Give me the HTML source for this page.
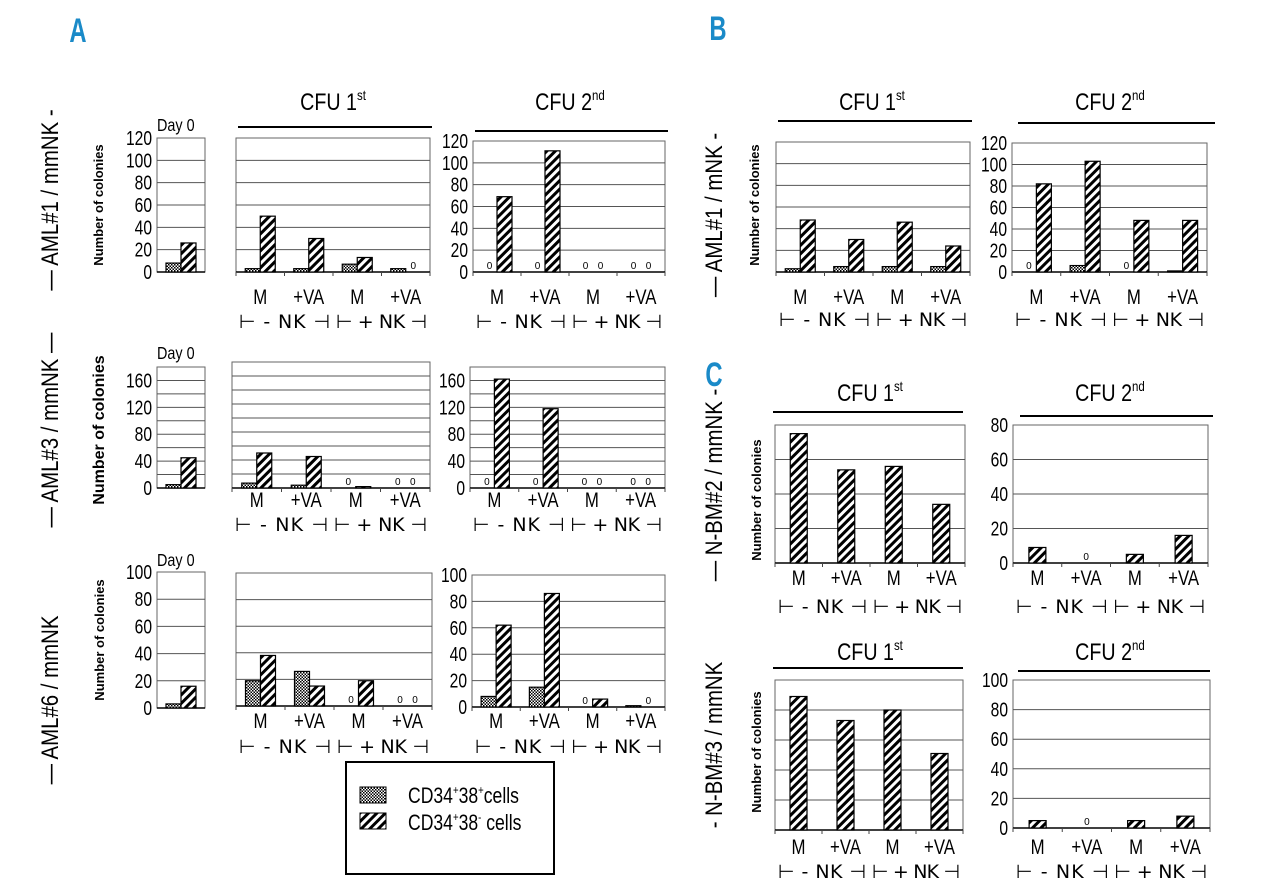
<!DOCTYPE html>
<html><head><meta charset="utf-8"><style>
body{margin:0;background:#fff}
svg{display:block;font-family:"Liberation Sans",sans-serif}
</style></head><body>
<svg id="fig" width="1280" height="882" viewBox="0 0 1280 882" xmlns="http://www.w3.org/2000/svg">
<defs>
<pattern id="hatch" patternUnits="userSpaceOnUse" width="6" height="6" patternTransform="rotate(45)">
<rect width="6" height="6" fill="#fff"/><rect width="3" height="6" fill="#000"/></pattern>
<pattern id="check" patternUnits="userSpaceOnUse" width="3" height="3">
<rect width="3" height="3" fill="#fff"/><rect width="1.5" height="1.5" fill="#000"/><rect x="1.5" y="1.5" width="1.5" height="1.5" fill="#000"/></pattern>
</defs>
<g id="static"></g>
<g id="plots"></g>
</svg>
<script>
const cats = ['M','+VA','M','+VA'];
const a1d0Plus=[8], a1d0Minus=[26];
const a1c1Plus=[3,3,7,3], a1c1Minus=[50,30,13,0];
const a1c2Plus=[0,0,0,0], a1c2Minus=[69,111,0,0];
const a3d0Plus=[5], a3d0Minus=[45];
const a3c1Plus=[7,4,0,0], a3c1Minus=[50,45,2,0];
const a3c2Plus=[0,0,0,0], a3c2Minus=[162,118,0,0];
const a6d0Plus=[3], a6d0Minus=[16];
const a6c1Plus=[19,26,0,0], a6c1Minus=[38,15,19,0];
const a6c2Plus=[8,15,0,1], a6c2Minus=[62,86,6,0];
const bc1Plus=[3,5,5,5], bc1Minus=[48,30,46,24];
const bc2Plus=[0,6,0,1], bc2Minus=[82,103,48,48];
const n2c1Minus=[75,54,56,34];
const n2c2Minus=[9,0,5,16];
const n3c1Minus=[89,73,80,51];
const n3c2Minus=[5,0,5,8];

const NS='http://www.w3.org/2000/svg';
function mk(parent,tag,attrs,text){const e=document.createElementNS(NS,tag);for(const k in attrs)e.setAttribute(k,attrs[k]);if(text!==undefined)e.textContent=text;parent.appendChild(e);return e;}
function narrow(el,x,k){k=k||0.8;el.setAttribute('transform','translate('+x+',0) scale('+k+',1) translate('+(-x)+',0)');}
const plots=document.getElementById('plots');
const stat=document.getElementById('static');

const panels=[
 {name:'aml1-day0',x:157,y:138,w:48,h:134,max:120,grid:20,lab:20,plus:a1d0Plus,minus:a1d0Minus,labels:true,day0:true},
 {name:'aml1-cfu1',x:236,y:138,w:194,h:134,max:120,grid:20,plus:a1c1Plus,minus:a1c1Minus,catY:304,nkY:328},
 {name:'aml1-cfu2',x:473,y:141,w:192,h:131,max:120,grid:20,lab:20,plus:a1c2Plus,minus:a1c2Minus,labels:true,catY:304,nkY:328},
 {name:'aml3-day0',x:157,y:367,w:48,h:121,max:180,grid:20,lab:40,plus:a3d0Plus,minus:a3d0Minus,labels:true,day0:true},
 {name:'aml3-cfu1',x:232,y:362,w:198,h:126,max:180,grid:20,plus:a3c1Plus,minus:a3c1Minus,catY:507,nkY:531},
 {name:'aml3-cfu2',x:470,y:367,w:195,h:121,max:180,grid:20,lab:40,plus:a3c2Plus,minus:a3c2Minus,labels:true,catY:507,nkY:531},
 {name:'aml6-day0',x:157,y:572,w:48,h:136,max:100,grid:20,lab:20,plus:a6d0Plus,minus:a6d0Minus,labels:true,day0:true},
 {name:'aml6-cfu1',x:236,y:573,w:196,h:133,max:100,grid:20,plus:a6c1Plus,minus:a6c1Minus,catY:728,nkY:753},
 {name:'aml6-cfu2',x:472,y:575,w:193,h:132,max:100,grid:20,lab:20,plus:a6c2Plus,minus:a6c2Minus,labels:true,catY:728,nkY:753},
 {name:'b-cfu1',x:776,y:142,w:194,h:130,max:120,grid:20,plus:bc1Plus,minus:bc1Minus,catY:304,nkY:326},
 {name:'b-cfu2',x:1012,y:143,w:195,h:129,max:120,grid:20,lab:20,plus:bc2Plus,minus:bc2Minus,labels:true,catY:304,nkY:326},
 {name:'c-nbm2-cfu1',x:775,y:425,w:190,h:138,max:80,grid:20,minus:n2c1Minus,catY:585,nkY:613},
 {name:'c-nbm2-cfu2',x:1013,y:425,w:195,h:138,max:80,grid:20,lab:20,minus:n2c2Minus,labels:true,catY:585,nkY:613},
 {name:'c-nbm3-cfu1',x:775,y:680,w:188,h:150,max:100,grid:20,minus:n3c1Minus,catY:854,nkY:878},
 {name:'c-nbm3-cfu2',x:1013,y:680,w:197,h:148,max:100,grid:20,lab:20,minus:n3c2Minus,labels:true,catY:854,nkY:878}
];

panels.forEach(p=>{
 const g=mk(plots,'g',{});
 
 
 const yv=v=>p.y+p.h-v/p.max*p.h;
 mk(g,'rect',{x:p.x,y:p.y,width:p.w,height:p.h,fill:'#fff',stroke:'#666','stroke-width':1});
 for(let v=p.grid;v<p.max;v+=p.grid){
  const l=mk(g,'line',{x1:p.x,x2:p.x+p.w,y1:yv(v),y2:yv(v),stroke:'#555','stroke-width':1});
  
  
 }
 mk(g,'line',{x1:p.x,x2:p.x+p.w,y1:p.y+p.h,y2:p.y+p.h,stroke:'#000','stroke-width':1.5});
 if(p.labels){
  for(let v=0;v<=p.max;v+=p.lab){
   if(v>p.max-0.01&&p.max%p.lab!==0)continue;
   const t=mk(g,'text',{x:p.x-5,y:yv(v)+7,'text-anchor':'end','font-size':20},String(v));
   narrow(t,p.x-5,0.78);
   
   
  }
 }
 const n=p.minus.length, gw=p.w/n;
 if(!p.day0){
  for(let i=0;i<=n;i++){mk(g,'line',{x1:p.x+i*gw,x2:p.x+i*gw,y1:p.y+p.h,y2:p.y+p.h+4,stroke:'#444'});}
 }
 const y0=p.y+p.h;
 for(let i=0;i<n;i++){
  const cx=p.x+gw*(i+0.5);
  const series=[];
  if(p.plus){const bw=15;series.push({v:p.plus[i],x:cx-bw,bw:bw,fill:'url(#check)',nm:'bar-cd34-38pos'});series.push({v:p.minus[i],x:cx,bw:bw,fill:'url(#hatch)',nm:'bar-cd34-38neg'});}
  else {const bw=17;series.push({v:p.minus[i],x:cx-bw/2,bw:bw,fill:'url(#hatch)',nm:'bar-cd34-38neg'});}
  series.forEach(s=>{
   if(s.v===0){
    const z=mk(g,'text',{x:s.x+s.bw/2,y:y0-3,'text-anchor':'middle','font-size':10},'0');
    
    
   } else {
    const r=mk(g,'rect',{x:s.x,y:yv(s.v),width:s.bw,height:y0-yv(s.v),fill:s.fill,stroke:'#000','stroke-width':1.2});
    
    
   }
  });
  if(p.catY){
   const t=mk(g,'text',{x:cx,y:p.catY,'text-anchor':'middle','font-size':21},cats[i]);
   narrow(t,cx,0.8);
   
   
  }
 }
 if(p.nkY){
  const tl=p.w/2-6;
  const a=mk(g,'text',{x:p.x+3,y:p.nkY,'font-size':19,textLength:tl,lengthAdjust:'spacing','font-family':'"DejaVu Sans",sans-serif','xml:space':'preserve'},'⊢ - NK ⊣');
  
  
  const b=mk(g,'text',{x:p.x+p.w/2+3,y:p.nkY,'font-size':19,textLength:tl,lengthAdjust:'spacing','font-family':'"DejaVu Sans",sans-serif','xml:space':'preserve'},'⊢ + NK ⊣');
  
  
 }
});

// titles
const titles=[
 {x:333,y:110,lx1:238,lx2:432,ly:127,sup:'st',n:'1'},
 {x:570,y:110,lx1:475,lx2:668,ly:131,sup:'nd',n:'2'},
 {x:872,y:110,lx1:778,lx2:972,ly:121,sup:'st',n:'1'},
 {x:1110,y:110,lx1:1018,lx2:1215,ly:123,sup:'nd',n:'2'},
 {x:870,y:401,lx1:773,lx2:963,ly:412,sup:'st',n:'1'},
 {x:1110,y:401,lx1:1020,lx2:1213,ly:416,sup:'nd',n:'2'},
 {x:870,y:660,lx1:773,lx2:963,ly:668,sup:'st',n:'1'},
 {x:1110,y:660,lx1:1018,lx2:1210,ly:671,sup:'nd',n:'2'}
];
titles.forEach(t=>{
 const tx=mk(stat,'text',{x:t.x,y:t.y,'text-anchor':'middle','font-size':24});
 narrow(tx,t.x,0.82);
 
 
 mk(tx,'tspan',{},'CFU '+t.n);
 mk(tx,'tspan',{'font-size':14,dy:-10},t.sup);
 mk(stat,'line',{x1:t.lx1,x2:t.lx2,y1:t.ly,y2:t.ly,stroke:'#000','stroke-width':2});
});
// day 0 labels
[[157,131],[157,359],[157,566]].forEach(d=>{
 const t=mk(stat,'text',{x:d[0],y:d[1],'font-size':18},'Day 0');
 narrow(t,d[0],0.8);
 
 
});
// row labels
const rows=[
 {x:58,y:200,t:'—   AML#1 / mmNK   -'},
 {x:58,y:430,t:'—   AML#3 / mmNK   —'},
 {x:58,y:700,t:'—   AML#6 / mmNK'},
 {x:722,y:215,t:'—   AML#1 / mNK   -'},
 {x:722,y:485,t:'—   N-BM#2 / mmNK   -'},
 {x:722,y:745,t:'-   N-BM#3 / mmNK'}
];
rows.forEach(r=>{
 const t=mk(stat,'text',{x:r.x,y:r.y,'text-anchor':'middle','font-size':24,transform:'rotate(-90 '+r.x+' '+r.y+') translate('+r.x+',0) scale(0.85,1) translate('+(-r.x)+',0)','xml:space':'preserve'},r.t);
 
 
});
// y titles
const ytit=[[103,205,13],[104,430,16],[104,640,13],[759,205,13],[761,500,13],[761,752,13]];
ytit.forEach(a=>{
 const t=mk(stat,'text',{x:a[0],y:a[1],'text-anchor':'middle','font-size':a[2],'font-weight':'bold',transform:'rotate(-90 '+a[0]+' '+a[1]+')'},'Number of colonies');
 
 
});
// panel letters
[['A',78,42],['B',718,40],['C',714,386]].forEach(l=>{
 const t=mk(stat,'text',{x:l[1],y:l[2],'text-anchor':'middle','font-size':34,'font-weight':'bold',fill:'#1a8ac8'},l[0]);
 narrow(t,l[1],0.7);
 
 
});
// legend
const lg=mk(stat,'g',{});


mk(lg,'rect',{x:346,y:762,width:208,height:112,fill:'#fff',stroke:'#000','stroke-width':2});
mk(lg,'rect',{x:360,y:787,width:26,height:16,fill:'url(#check)',stroke:'#000'});
mk(lg,'rect',{x:360,y:813,width:26,height:16,fill:'url(#hatch)',stroke:'#000'});
const e1=mk(lg,'text',{x:408,y:803,'font-size':22});
narrow(e1,408,0.8);


mk(e1,'tspan',{},'CD34');mk(e1,'tspan',{'font-size':12,dy:-9},'+');mk(e1,'tspan',{dy:9},'38');mk(e1,'tspan',{'font-size':12,dy:-9},'+');mk(e1,'tspan',{dy:9},'cells');
const e2=mk(lg,'text',{x:408,y:830,'font-size':22});
narrow(e2,408,0.8);


mk(e2,'tspan',{},'CD34');mk(e2,'tspan',{'font-size':12,dy:-9},'+');mk(e2,'tspan',{dy:9},'38');mk(e2,'tspan',{'font-size':12,dy:-9},'-');mk(e2,'tspan',{dy:9},' cells');
</script>
</body></html>
